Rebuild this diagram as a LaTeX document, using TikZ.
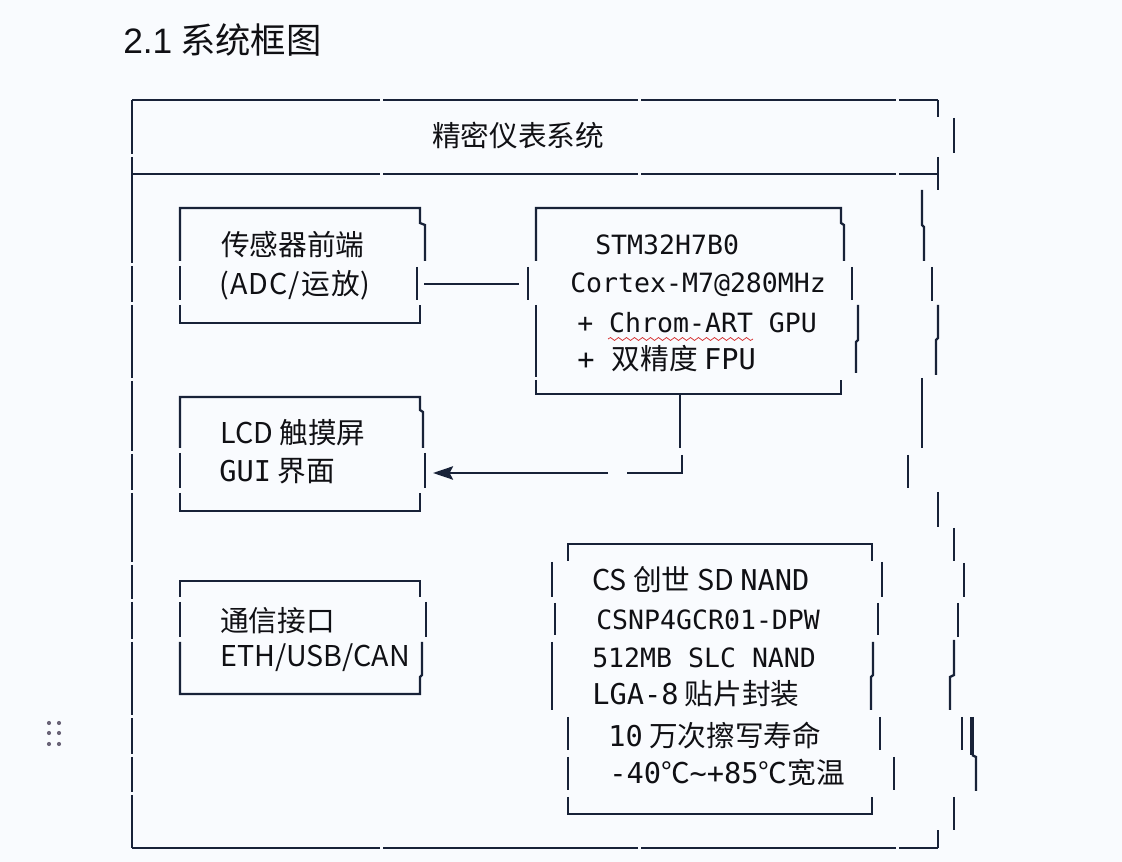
\documentclass[tikz,border=0pt]{standalone}
\usepackage{fontspec}
\setmainfont{Noto Sans CJK SC}
\newfontfamily\cjk{Noto Sans CJK SC}
\newfontfamily\monof{DejaVu Sans Mono}
\newfontfamily\headlat{Liberation Sans}
\newfontfamily\cjkwide[LetterSpace=4]{Noto Sans CJK SC}
\usetikzlibrary{arrows.meta,decorations.pathmorphing}
\definecolor{bgc}{RGB}{249,251,254}
\definecolor{lnc}{RGB}{24,34,56}
\definecolor{txc}{RGB}{16,16,20}
\definecolor{dotc}{RGB}{106,100,120}
\definecolor{wavc}{RGB}{214,60,60}
\newcommand\vseg[3]{\draw[lin] (#1,#2) -- (#1,#3);}
\newcommand\mo[1]{{\monof #1}}
\tikzset{
  lin/.style={draw=lnc, line width=1.7pt},
  txt/.style={anchor=west, inner sep=0pt, text=txc, font=\cjk\fontsize{21.5}{24}\selectfont},
  mtxt/.style={anchor=west, inner sep=0pt, text=txc, font=\monof\fontsize{19.9}{24}\selectfont},
}
\begin{document}
\begin{tikzpicture}[x=0.75pt,y=-0.75pt]
\fill[bgc] (0,0) rectangle (1122,862);
\useasboundingbox (0,0) rectangle (1122,862);

% heading
\node[txt, font=\cjk\fontsize{26.5}{30}\selectfont] (head) at (123,40) {{\headlat 2.1} 系统框图};

% drag handle
\foreach \yy in {723,733,744} {
  \fill[dotc] (49,\yy) circle (2.1);
  \fill[dotc] (59,\yy) circle (2.1);
}

% ===== outer box =====
\foreach \yy in {100,174,848} {
  \draw[lin] (132,\yy) -- (380,\yy);
  \draw[lin] (383,\yy) -- (638,\yy);
  \draw[lin] (641,\yy) -- (896,\yy);
  \draw[lin] (899,\yy) -- (938,\yy);
}
% left edge with small gaps
\vseg{132}{100}{154}
\vseg{132}{157}{263}
\vseg{132}{266}{302}
\vseg{132}{305}{378}
\vseg{132}{381}{451}
\vseg{132}{454}{490}
\vseg{132}{493}{562}
\vseg{132}{565}{599}
\vseg{132}{602}{639}
\vseg{132}{642}{715}
\vseg{132}{718}{754}
\vseg{132}{757}{792}
\vseg{132}{795}{848}
% right edge, broken
\vseg{938}{100}{117}
\vseg{954}{118}{153}
\vseg{938}{157}{190}
\draw[lin] (922,190) -- (922,225) -- (924,227) -- (924,261);
\vseg{932}{267}{301}
\draw[lin] (938,305) -- (938,338) -- (936,340) -- (936,375);
\vseg{922}{378}{448}
\vseg{908}{455}{488}
\vseg{938}{492}{527}
\vseg{954}{528}{561}
\vseg{964}{563}{597}
\vseg{958}{603}{637}
\draw[lin] (954,640) -- (954,675) -- (950,677) -- (950,710);
\draw[draw=lnc, line width=1.2pt] (962,717) -- (962,750);
\draw[draw=lnc, line width=2.6pt] (972,717) -- (972,755);
\draw[lin] (972,755) -- (976,757) -- (976,791);
\vseg{954}{797}{830}
\vseg{938}{830}{848}

\node[txt] (systitle) at (432,135) {精密仪表系统};

% ===== sensor box =====
\draw[lin] (180,261) -- (180,208) -- (420,208) -- (420,223) -- (425,225) -- (425,261);
\vseg{180}{266}{300}
\vseg{417}{267}{300}
\draw[lin] (180,305) -- (180,323) -- (420,323) -- (420,305);
\node[txt] (sen1) at (221,245) {传感器前端};
\node[txt, font=\cjkwide\fontsize{21.5}{24}\selectfont] (sen2) at (219,285) {(ADC/运放)};

% ===== STM box =====
\draw[lin] (536,261) -- (536,208) -- (841,208) -- (841,223) -- (844,225) -- (844,261);
\vseg{528}{267}{300}
\vseg{852}{267}{300}
\vseg{536}{305}{377}
\draw[lin] (858,305) -- (858,340) -- (856,342) -- (856,373);
\draw[lin] (536,380) -- (536,394) -- (841,394) -- (841,380);
\node[mtxt] (stm1) at (595,245) {STM32H7B0};
\node[mtxt] (stm2) at (570,285) {Cortex-M7@280MHz};
\node[mtxt] (stm3) at (577,323) {+ Chrom-ART GPU};
\node[txt] (stm4) at (577,359) {\mo{+ }双精度 \mo{FPU}};
\draw[wavc, line width=0.6pt, decorate, decoration={snake, amplitude=1.1, segment length=6}] (608,339) -- (753,339);

% ===== LCD box =====
\draw[lin] (180,448) -- (180,397) -- (420,397) -- (420,410) -- (423,412) -- (423,448);
\vseg{180}{453}{488}
\vseg{425}{453}{488}
\draw[lin] (180,493) -- (180,511) -- (420,511) -- (420,493);
\node[txt] (lcd1) at (220,433) {LCD 触摸屏};
\node[txt] (lcd2) at (219,471) {\mo{GUI} 界面};

% ===== comm box =====
\draw[lin] (180,597) -- (180,581) -- (420,581) -- (420,597);
\vseg{180}{602}{637}
\vseg{426}{602}{637}
\draw[lin] (180,642) -- (180,694) -- (420,694) -- (420,677) -- (422,675) -- (422,642);
\node[txt] (com1) at (220,621) {通信接口};
\node[txt] (com2) at (220,658) {ETH/USB/CAN};

% ===== NAND box =====
\draw[lin] (568,561) -- (568,544) -- (872,544) -- (872,561);
\vseg{552}{562}{597}
\vseg{882}{562}{597}
\vseg{555}{603}{635}
\vseg{878}{603}{635}
\vseg{552}{642}{710}
\draw[lin] (873,642) -- (873,675) -- (871,677) -- (871,710);
\vseg{568}{717}{750}
\vseg{880}{717}{750}
\vseg{568}{757}{790}
\vseg{894}{757}{790}
\draw[lin] (568,797) -- (568,814) -- (872,814) -- (872,797);
\node[txt] (nand1) at (592,580) {CS 创世 SD \mo{NAND}};
\node[mtxt] (nand2) at (596,620) {CSNP4GCR01-DPW};
\node[mtxt] (nand3) at (592,658) {512MB SLC NAND};
\node[txt] (nand4) at (592,694) {\mo{LGA-8} 贴片封装};
\node[txt] (nand5) at (608,735) {\mo{10} 万次擦写寿命};
\node[txt] (nand6) at (609,773) {\mo{-40}℃\mo{\textasciitilde+85}℃宽温};

% ===== connectors =====
\coordinate (senR) at (424,284);
\coordinate (stmL) at (519,284);
\coordinate (stmB) at (680,395);
\coordinate (lcdR) at (433,473);
\draw[lin] (senR) -- (stmL);
\draw[lin] (stmB) -- (680,448);
\draw[lin] (682,455) -- (682,473) -- (627,473);
\draw[lin, -{Stealth[length=15pt, width=10pt, inset=2.5pt]}] (608,473) -- (lcdR);
\end{tikzpicture}
\end{document}
